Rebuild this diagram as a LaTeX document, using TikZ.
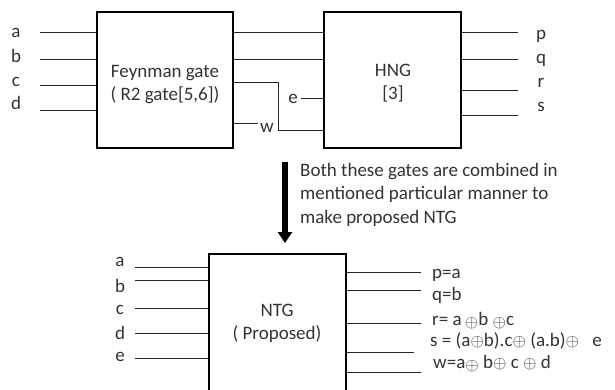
\documentclass[tikz,border=0pt]{standalone}
\usepackage{fontspec}
\setmainfont{Carlito}
\usetikzlibrary{arrows.meta}
\begin{document}
\begin{tikzpicture}[x=1pt,y=-1pt,
  gate/.style={draw=black, line width=1.4pt, fill=white, inner sep=0pt},
  wire/.style={draw=black!85, line width=0.9pt},
  lbl/.style={font=\fontsize{19}{23}\selectfont, text=black!80, inner sep=0pt},
  eqlbl/.style={lbl, anchor=west, text height=12pt, text depth=3pt},
  bigarrow/.style={draw=black, line width=6pt, -{Triangle[width=14pt,length=11pt]}},
]
\useasboundingbox (0,0) rectangle (615,390);
\clip (0,0) rectangle (615,390);
\fill[white] (0,0) rectangle (615,390);

% ---------- Feynman gate ----------
\node[gate, minimum width=136pt, minimum height=136pt] (fg) at (165,80) {};
\node[lbl, align=center] (fgt) at (165,85) {Feynman gate\\( R2 gate[5,6])};

% ---------- HNG ----------
\node[gate, minimum width=137pt, minimum height=136pt] (hng) at (392.5,80) {};
\node[lbl, align=center] (hngt) at (393,83) {HNG\\{}[3]};

% Feynman inputs
\foreach \n/\y/\ly in {a/32/33, b/59/56, c/85/82, d/110/102.5}{
  \node[lbl] (fl\n) at (16,\ly) {\n};
  \coordinate (fi\n) at (40,\y);
  \draw[wire] (fi\n) -- (fi\n -| fg.west);
}
% Feynman to HNG
\foreach \y in {32,59}{
  \draw[wire] (fg.east |- 0,\y) -- (hng.west |- 0,\y);
}
\draw[wire] (fg.east |- 0,82) -- (278,82) -- (278,130) -- (hng.west |- 0,130);
\coordinate (wend) at (258,123);
\draw[wire] (fg.east |- wend) -- (wend);
\node[lbl] (wl) at (267,128) {w};
\node[lbl] (el) at (293,99) {e};
\coordinate (ee) at (301,98);
\draw[wire] (ee) -- (ee -| hng.west);

% HNG outputs
\foreach \n/\y/\ly in {p/32/36.5, q/59/60, r/90/83, s/115/107}{
  \coordinate (ho\n) at (518,\y);
  \draw[wire] (hng.east |- ho\n) -- (ho\n);
  \node[lbl] (hl\n) at (541,\ly) {\n};
}

% ---------- Arrow & text ----------
\coordinate (atop) at (285,162);
\coordinate (abot) at (285,243);
\draw[bigarrow] (atop) -- (abot);
\node[lbl, align=left, anchor=north west, font=\fontsize{19}{23.5}\selectfont] (desc) at (300,163)
  {Both these gates are combined in\\mentioned particular manner to\\make proposed NTG};

% ---------- NTG ----------
\node[gate, minimum width=137pt, minimum height=160pt] (ntg) at (277.5,334) {};
\node[lbl, align=center] (ntgt) at (277,323.5) {NTG\\( Proposed)};

\foreach \n/\y/\ly in {a/267/262, b/280/286, c/308/310, d/333/333, e/358/357}{
  \node[lbl] (nl\n) at (120,\ly) {\n};
  \coordinate (ni\n) at (135,\y);
  \draw[wire] (ni\n) -- (ni\n -| ntg.west);
}

\newcommand{\xo}{{\fontsize{17}{17}\selectfont$\oplus$}}
\newcommand{\xol}{\raisebox{-2pt}{\xo}}
\foreach \n/\y/\len in {p/272/421, q/290/421, r/323/421, s/352/414, w/372/421}{
  \coordinate (no\n) at (\len,\y);
  \draw[wire] (ntg.east |- no\n) -- (no\n);
}
\node[eqlbl] (olp) at (432,274) {p=a};
\node[eqlbl] (olq) at (432,296) {q=b};
\node[eqlbl] (olr) at (432,321) {r= a\,\xol b \xol c};
\node[eqlbl] (ols) at (430,342) {s = (a\xo b).c\xo\ (a.b)\xo\hspace{9pt} e};
\node[eqlbl] (olw) at (433,363.5) {w=a\xol\ b\xo\ c \xo\ d};
\end{tikzpicture}
\end{document}
